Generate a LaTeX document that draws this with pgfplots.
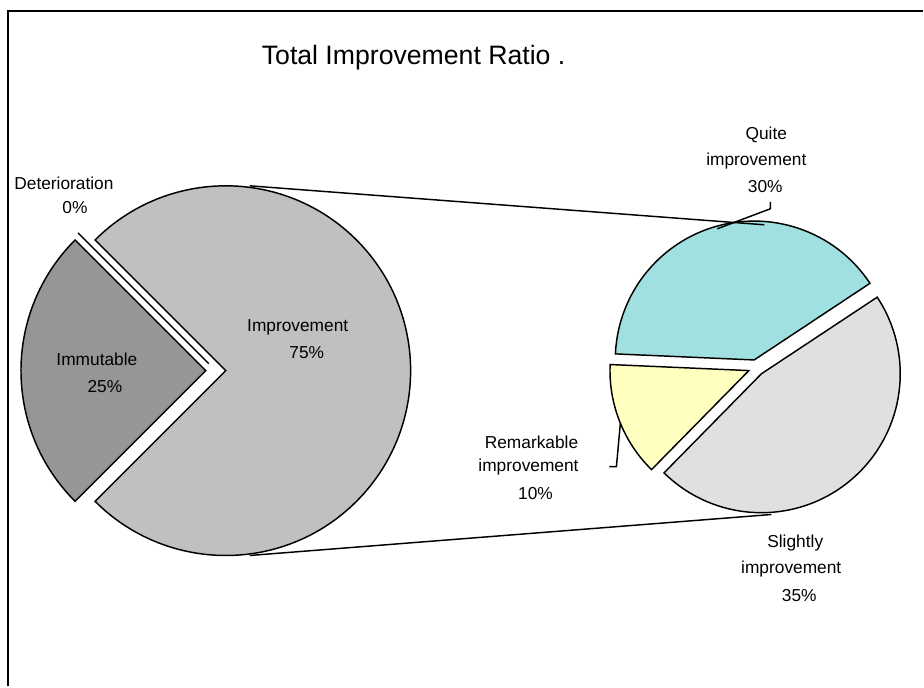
\documentclass[border=0pt]{standalone}
\usepackage{fontspec}
\setmainfont{Liberation Sans}
\usepackage{pgfplots}
\usepackage{pgfplotstable}
\pgfplotsset{compat=1.18}

\definecolor{cImpr}{RGB}{192,192,192}
\definecolor{cImm}{RGB}{150,150,150}
\definecolor{cQuite}{RGB}{160,224,224}
\definecolor{cRem}{RGB}{255,255,192}
\definecolor{cSl}{RGB}{224,224,224}

\pgfplotstableread{
label value
Deterioration 0
Immutable 25
Improvement 75
}\maindata
\pgfplotstableread{
label value
Quite 30
Remarkable 10
Slightly 35
}\subdata

\pgfplotstablegetelem{0}{value}\of\maindata \edef\vDet{\pgfplotsretval}
\pgfplotstablegetelem{1}{value}\of\maindata \edef\vImm{\pgfplotsretval}
\pgfplotstablegetelem{2}{value}\of\maindata \edef\vImp{\pgfplotsretval}
\pgfplotstablegetelem{0}{value}\of\subdata \edef\vQ{\pgfplotsretval}
\pgfplotstablegetelem{1}{value}\of\subdata \edef\vR{\pgfplotsretval}
\pgfplotstablegetelem{2}{value}\of\subdata \edef\vS{\pgfplotsretval}

% main pie angles (canvas degrees, counter-clockwise)
\def\mainStart{135}
\pgfmathsetmacro\mTot{\vDet+\vImm+\vImp}
\pgfmathsetmacro\aImmEnd{\mainStart+360*(\vImm/\mTot)}
\pgfmathsetmacro\aImpStart{\mainStart-360*(\vImp/\mTot)}
% second pie angles
\def\subStart{33.5}
\pgfmathsetmacro\sTot{\vQ+\vR+\vS}
\pgfmathsetmacro\aQ{\subStart+360*(\vQ/\sTot)}
\pgfmathsetmacro\aR{\aQ+360*(\vR/\sTot)}
\pgfmathsetmacro\aS{\aR+360*(\vS/\sTot)}

% #1,#2 base centre (px), #3 start, #4 end angle, #5 explode (px), #6 radius (pt), #7 colour
\newcommand{\slice}[7]{%
 \filldraw[fill=#7, draw=black, line width=1.1pt, line join=miter]
   (axis cs:{#1+#5*cos((#3+#4)/2)},{#2-#5*sin((#3+#4)/2)})
   -- ++(#3:#6) arc[start angle=#3, end angle=#4, radius=#6] -- cycle;}

\newcommand{\lbl}[3]{\node[font=\fontsize{13}{15}\selectfont, inner sep=0pt, anchor=center] at (axis cs:#1,#2) {#3};}

\begin{document}
\begin{tikzpicture}
\begin{axis}[
  scale only axis, width=693pt, height=515.25pt,
  xmin=0, xmax=924, ymin=0, ymax=687, y dir=reverse,
  hide axis, clip=false]
\path (axis cs:0,0) rectangle (axis cs:924,687);
% frame
\addplot[black, line width=1.3pt, line join=miter] coordinates {(8,687) (8,11) (924,11)};

% main pie
\slice{216}{371}{\mainStart}{\aImmEnd}{10}{138.75pt}{cImm}
\slice{216}{371}{\aImpStart}{\mainStart}{10}{138.75pt}{cImpr}
\draw[black, line width=1.1pt] (axis cs:{216+10*cos(\mainStart)},{371-10*sin(\mainStart)}) -- ++(\mainStart:138.75pt);

% second pie
\slice{757}{368}{\subStart}{\aQ}{8}{104.25pt}{cQuite}
\slice{757}{368}{\aQ}{\aR}{8}{104.25pt}{cRem}
\slice{757}{368}{\aR}{\aS}{8}{104.25pt}{cSl}

% connector lines
\addplot[black, line width=1.1pt] coordinates {(250,186) (765,225)};
\addplot[black, line width=1.1pt] coordinates {(250,556) (772,515)};
% leader lines
\addplot[black, line width=1.1pt] coordinates {(771,202) (771,209) (718,229)};
\addplot[black, line width=1.1pt] coordinates {(610,467) (617,467) (621,423)};

% title
\node[font=\fontsize{20}{24}\selectfont, inner sep=0pt] at (axis cs:414,58) {Total Improvement Ratio .};
% labels
\lbl{64}{183}{Deterioration}
\lbl{75}{208}{0\%}
\lbl{298}{328}{Improvement}
\lbl{307}{353}{75\%}
\lbl{97}{360}{Immutable}
\lbl{105}{387}{25\%}
\lbl{767}{135}{Quite}
\lbl{757}{161}{improvement}
\lbl{766}{187}{30\%}
\lbl{532}{443}{Remarkable}
\lbl{529}{467}{improvement}
\lbl{536}{494}{10\%}
\lbl{796}{544}{Slightly}
\lbl{792}{570}{improvement}
\lbl{800}{596}{35\%}
\end{axis}
\end{tikzpicture}
\end{document}
